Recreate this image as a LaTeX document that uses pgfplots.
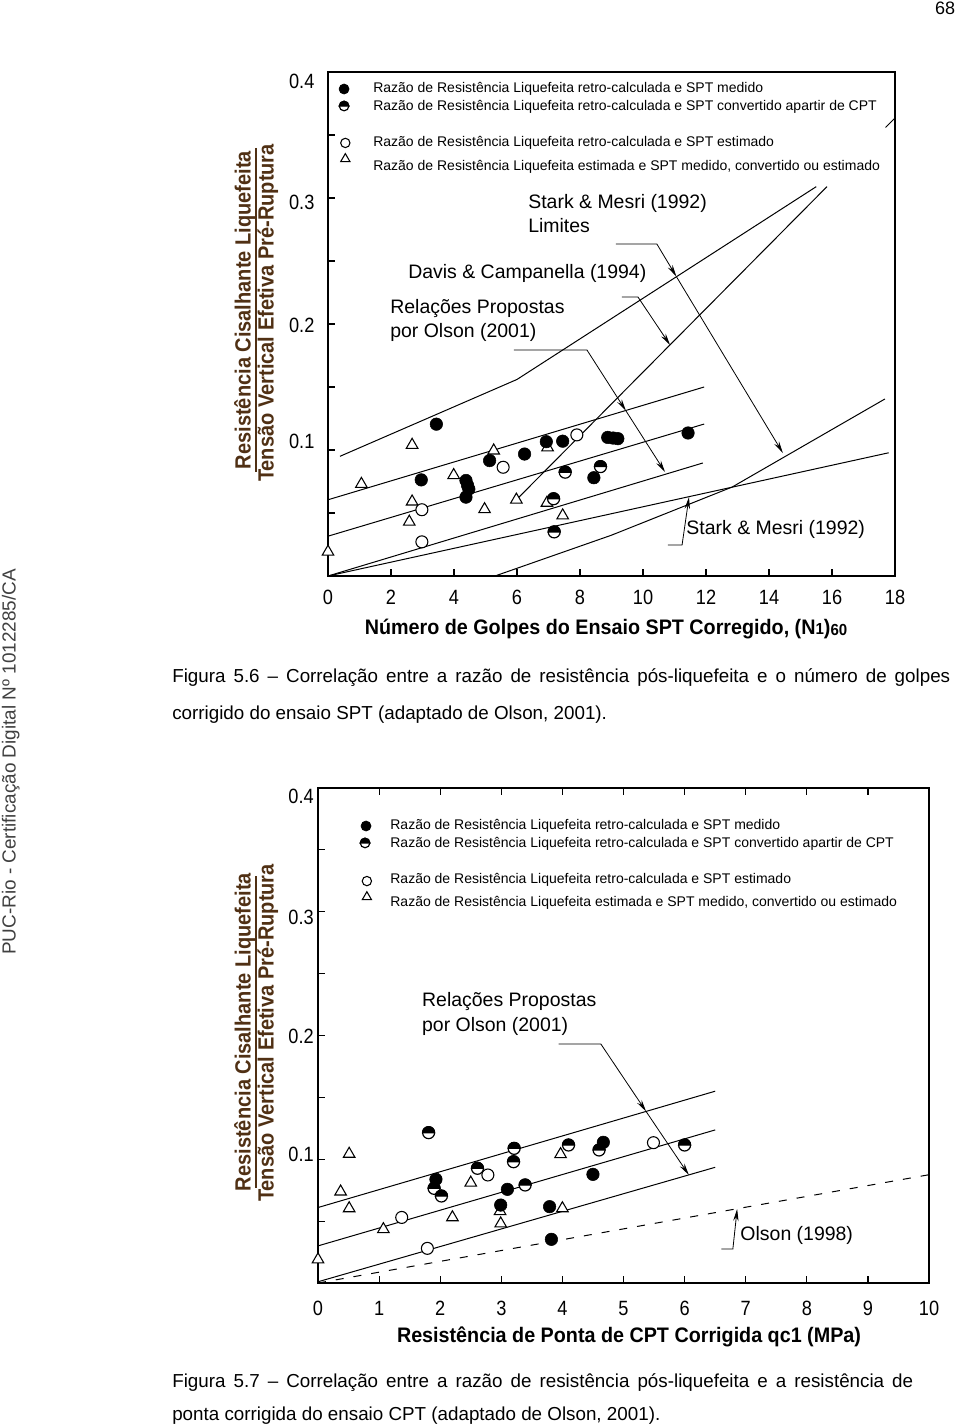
\documentclass[border=0pt]{standalone}
\usepackage{fontspec}
\setmainfont{Liberation Sans}
\usepackage{pgfplots}
\pgfplotsset{compat=1.18}
\usetikzlibrary{arrows.meta,plotmarks}
\newfontfamily\tickfont[FakeStretch=0.88]{Liberation Sans}
\newfontfamily\labfont[FakeStretch=0.94]{Liberation Sans}
\newfontfamily\ylabfont[FakeStretch=0.91]{Liberation Sans}
\definecolor{ylab}{RGB}{80,48,20}
\pgfdeclareplotmark{tophalf}{%
  \pgfpathmoveto{\pgfqpoint{\pgfplotmarksize}{0pt}}%
  \pgfpatharc{0}{180}{\pgfplotmarksize}%
  \pgfpathclose
  \pgfusepathqfillstroke}
\tikzset{
  arr/.style={-{Stealth[length=9pt,width=4pt]}, black, line width=0.6pt},
  ann/.style={font=\fontsize{14.6pt}{17pt}\selectfont, anchor=mid west, inner sep=0pt},
  leg/.style={font=\fontsize{10.5pt}{12pt}\selectfont, anchor=mid west, inner sep=0pt},
  captxt/.style={font=\fontsize{14.1pt}{16pt}\selectfont, anchor=mid west, inner sep=0pt},
}
\pgfplotsset{
  base/.style={scale only axis, axis line style={line width=1.3pt}, tick style={line width=0.9pt, black},
    major tick length=5pt, minor tick length=5pt, tick align=inside, clip mode=individual,
    tick label style={font=\tickfont\fontsize{15.5pt}{18pt}\selectfont, inner sep=0pt, text height=11pt, text depth=0pt},
    /pgf/number format/assume math mode=true},
  fc/.style={only marks, mark=*, mark size=4.7pt, mark options={fill=black, draw=black}},
  hb/.style={only marks, mark=*, mark size=4.5pt, mark options={draw=black, fill=white, line width=0.9pt}},
  ht/.style={only marks, mark=tophalf, mark size=4.5pt, mark options={draw=black, fill=black, line width=0.9pt}},
  oc/.style={only marks, mark=*, mark size=4.5pt, mark options={draw=black, line width=0.8pt, fill=white}},
  tr/.style={only marks, mark=triangle*, mark size=5pt, mark options={draw=black, line width=0.8pt, fill=white}},
  ln/.style={black, line width=0.75pt, no marks},
}
\begin{document}
\begin{tikzpicture}
\begin{scope}[x=0.75pt,y=-0.75pt]
\path[use as bounding box] (0,0) rectangle (960,1426);
% page number and side text
\node[font=\fontsize{13.5pt}{16pt}\selectfont, anchor=mid] at (945,11) {68};
\node[rotate=90, font=\fontsize{14.2pt}{16pt}\selectfont, text=black!75, anchor=mid] at (12,762) {PUC-Rio - Certificação Digital Nº 1012285/CA};
% y labels chart 1
\node[rotate=90, font=\ylabfont\bfseries\fontsize{16.5pt}{19pt}\selectfont, text=ylab, anchor=mid] at (247,310) {Resistência Cisalhante Liquefeita};
\draw[ylab, line width=1.2pt] (256,148) -- (256,472);
\node[rotate=90, font=\ylabfont\bfseries\fontsize{16.5pt}{19pt}\selectfont, text=ylab, anchor=mid] at (270,313) {Tensão Vertical Efetiva Pré-Ruptura};
% y labels chart 2
\node[rotate=90, font=\ylabfont\bfseries\fontsize{16.5pt}{19pt}\selectfont, text=ylab, anchor=mid] at (247,1032) {Resistência Cisalhante Liquefeita};
\draw[ylab, line width=1.2pt] (256,876) -- (256,1188);
\node[rotate=90, font=\ylabfont\bfseries\fontsize{16.5pt}{19pt}\selectfont, text=ylab, anchor=mid] at (270,1033) {Tensão Vertical Efetiva Pré-Ruptura};
% x labels
\node[font=\labfont\bfseries\fontsize{15.75pt}{18pt}\selectfont, anchor=mid] at (606,631) {Número de Golpes do Ensaio SPT Corregido, (N{\fontsize{12pt}{14pt}\selectfont 1})\raisebox{-1pt}{\fontsize{12pt}{14pt}\selectfont 60}};
\node[font=\labfont\bfseries\fontsize{15.75pt}{18pt}\selectfont, anchor=mid] at (629,1339) {Resistência de Ponta de CPT Corrigida qc1 (MPa)};
% captions (first lines justified)
\node[captxt] at (172,679) {\makebox[583.5pt][s]{Figura 5.6 – Correlação entre a razão de resistência pós-liquefeita e o número de golpes}};
\node[captxt] at (172,716) {corrigido do ensaio SPT (adaptado de Olson, 2001).};
\node[captxt] at (172,1384) {\makebox[555.75pt][s]{Figura 5.7 – Correlação entre a razão de resistência pós-liquefeita e a resistência de}};
\node[captxt] at (172,1417) {ponta corrigida do ensaio CPT (adaptado de Olson, 2001).};
\end{scope}

% ================= CHART 1 =================
\begin{axis}[base, at={(246pt,-432pt)}, anchor=south west, width=425.25pt, height=378pt,
  xmin=0, xmax=18, ymin=0, ymax=0.4,
  xtick={0,2,...,18}, ytick={0.1,0.2,0.3,0.4}, minor ytick={0.05,0.15,0.25,0.35},
  yticklabels={\raisebox{7pt}{0.1},\raisebox{-0.75pt}{0.2},\raisebox{-3.3pt}{0.3},\raisebox{-6.8pt}{0.4}},
  xtick pos=bottom, ytick pos=left,
  xticklabel style={yshift=-10pt}, yticklabel style={xshift=-10pt}]
% lines
\addplot[ln] coordinates {(0,0.0605) (11.94,0.150)};
\addplot[ln] coordinates {(0,0.0316) (11.94,0.1206)};
\addplot[ln] coordinates {(0,0) (11.9,0.0897)};
\addplot[ln] coordinates {(0,0) (17.8,0.0978)};
\addplot[ln] coordinates {(5.3,0) (9.0,0.0324) (12.83,0.0706) (17.68,0.1405)};
\addplot[ln] coordinates {(0.38,0.095) (6.0,0.156) (15.5,0.309)};
\addplot[ln] coordinates {(6.0,0.061) (15.84,0.309)};
\addplot[ln] coordinates {(17.7,0.356) (18,0.3635)};
% data
\addplot[tr] coordinates {(0.0,0.0192) (1.06,0.073) (2.67,0.104) (2.67,0.059) (2.58,0.043) (3.99,0.080) (5.26,0.0995) (4.97,0.0529) (5.98,0.0605) (6.97,0.102) (6.95,0.058) (7.45,0.048)};
\addplot[oc] coordinates {(5.56,0.0863) (7.9,0.112) (2.98,0.0526) (2.98,0.0271)};
\addplot[fc] coordinates {(3.44,0.1205) (2.96,0.0763) (4.38,0.0758) (4.43,0.072) (4.47,0.069) (4.38,0.0626) (5.13,0.0916) (6.24,0.0968) (6.93,0.1066) (7.45,0.107) (8.44,0.078) (8.88,0.110) (9.05,0.1095) (9.2,0.109) (11.43,0.1135)};
\addplot[hb] coordinates {(7.53,0.0824) (8.65,0.0868) (7.16,0.0613) (7.18,0.035)};
\addplot[ht] coordinates {(7.53,0.0824) (8.65,0.0868) (7.16,0.0613) (7.18,0.035)};
% legend
\addplot[fc, mark size=3.8pt] coordinates {(0.51,0.3865)};
\addplot[hb, mark size=3.6pt] coordinates {(0.51,0.373)};
\addplot[ht, mark size=3.6pt] coordinates {(0.51,0.373)};
\addplot[oc, mark size=3.5pt] coordinates {(0.55,0.3437)};
\addplot[tr, mark size=4pt] coordinates {(0.55,0.331)};
\node[leg] at (axis cs:1.43,0.3865) {Razão de Resistência Liquefeita retro-calculada e SPT medido};
\node[leg] at (axis cs:1.43,0.372) {Razão de Resistência Liquefeita retro-calculada e SPT convertido apartir de CPT};
\node[leg] at (axis cs:1.43,0.3437) {Razão de Resistência Liquefeita retro-calculada e SPT estimado};
\node[leg] at (axis cs:1.43,0.3246) {Razão de Resistência Liquefeita estimada e SPT medido, convertido ou estimado};
% annotations
\node[ann] at (axis cs:6.35,0.2944) {Stark \& Mesri (1992)};
\node[ann] at (axis cs:6.35,0.2754) {Limites};
\node[ann] at (axis cs:2.54,0.2389) {Davis \& Campanella (1994)};
\node[ann] at (axis cs:1.97,0.2111) {Relações Propostas};
\node[ann] at (axis cs:1.97,0.1921) {por Olson (2001)};
\node[ann] at (axis cs:11.37,0.0357) {Stark \& Mesri (1992)};
\draw[arr] (axis cs:9.14,0.2635) -- (axis cs:10.44,0.2635) -- (axis cs:11.06,0.2376);
\draw[arr] (axis cs:11.06,0.2376) -- (axis cs:14.44,0.0976);
\draw[arr] (axis cs:9.33,0.2214) -- (axis cs:9.84,0.2214) -- (axis cs:10.86,0.1833);
\draw[arr] (axis cs:5.9,0.1794) -- (axis cs:8.22,0.1794) -- (axis cs:9.46,0.131);
\draw[arr] (axis cs:9.46,0.131) -- (axis cs:10.7,0.0825);
\draw[arr] (axis cs:10.79,0.0246) -- (axis cs:11.24,0.0246) -- (axis cs:11.46,0.0627);
\end{axis}

% ================= CHART 2 =================
\begin{axis}[base, at={(238.5pt,-962.25pt)}, anchor=south west, width=458.25pt, height=371.25pt,
  xmin=0, xmax=10, ymin=0, ymax=0.4,
  xtick={0,...,10}, ytick={0.1,0.2,0.3,0.4}, minor ytick={0.05,0.15,0.25,0.35},
  yticklabels={\raisebox{3.75pt}{0.1},\raisebox{-0.75pt}{0.2},\raisebox{-3.75pt}{0.3},\raisebox{-6pt}{0.4}},
  xtick pos=both, xticklabel pos=lower, ytick pos=left,
  xticklabel style={yshift=-13pt}, yticklabel style={xshift=-3pt}]
\addplot[ln] coordinates {(0,0.061) (6.5,0.155)};
\addplot[ln] coordinates {(0,0.030) (6.5,0.1237)};
\addplot[ln] coordinates {(0,0.001) (6.5,0.0935)};
\addplot[ln, dash pattern=on 6pt off 7.5pt] coordinates {(0,0) (10,0.0875)};
% data
\addplot[tr] coordinates {(0.51,0.1043) (0.37,0.0738) (0.51,0.0603) (0.0,0.019) (1.07,0.0434) (2.20,0.053) (2.50,0.081) (2.99,0.048) (2.98,0.058) (3.97,0.104) (4.0,0.0603)};
\addplot[oc] coordinates {(2.78,0.0873) (1.37,0.053) (1.79,0.028) (5.49,0.1134)};
\addplot[fc] coordinates {(1.93,0.0838) (2.99,0.063) (3.10,0.0757) (3.79,0.0617) (3.82,0.0353) (4.50,0.0878) (4.67,0.1137)};
\addplot[hb] coordinates {(1.81,0.1215) (1.90,0.0765) (2.02,0.0703) (2.61,0.0927) (3.21,0.1088) (3.20,0.098) (3.39,0.0792) (4.10,0.1115) (4.60,0.1075) (6.0,0.1115)};
\addplot[ht] coordinates {(1.81,0.1215) (1.90,0.0765) (2.02,0.0703) (2.61,0.0927) (3.21,0.1088) (3.20,0.098) (3.39,0.0792) (4.10,0.1115) (4.60,0.1075) (6.0,0.1115)};
% legend
\addplot[fc, mark size=3.8pt] coordinates {(0.786,0.3693)};
\addplot[hb, mark size=3.6pt] coordinates {(0.77,0.3556)};
\addplot[ht, mark size=3.6pt] coordinates {(0.77,0.3556)};
\addplot[oc, mark size=3.5pt] coordinates {(0.80,0.3248)};
\addplot[tr, mark size=4pt] coordinates {(0.80,0.3119)};
\node[leg] at (axis cs:1.18,0.3693) {Razão de Resistência Liquefeita retro-calculada e SPT medido};
\node[leg] at (axis cs:1.18,0.3547) {Razão de Resistência Liquefeita retro-calculada e SPT convertido apartir de CPT};
\node[leg] at (axis cs:1.18,0.3257) {Razão de Resistência Liquefeita retro-calculada e SPT estimado};
\node[leg] at (axis cs:1.18,0.3071) {Razão de Resistência Liquefeita estimada e SPT medido, convertido ou estimado};
% annotations
\node[ann] at (axis cs:1.70,0.2263) {Relações Propostas};
\node[ann] at (axis cs:1.70,0.2061) {por Olson (2001)};
\node[ann] at (axis cs:6.91,0.0372) {Olson (1998)};
\draw[arr] (axis cs:3.94,0.1931) -- (axis cs:4.63,0.1931) -- (axis cs:5.37,0.1386);
\draw[arr] (axis cs:5.37,0.1386) -- (axis cs:6.07,0.0873);
\draw[arr] (axis cs:6.6,0.0275) -- (axis cs:6.79,0.0275) -- (axis cs:6.86,0.0598);
\end{axis}
\end{tikzpicture}
\end{document}
